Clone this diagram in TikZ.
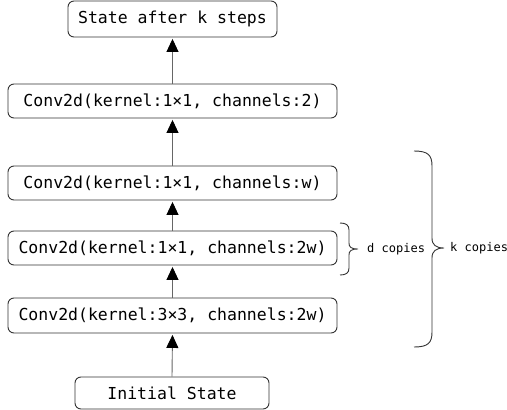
\documentclass[tikz,border=0pt]{standalone}
\usepackage{fontspec}
\setmonofont{DejaVu Sans Mono}
\usetikzlibrary{arrows.meta}
\definecolor{arrowgray}{HTML}{666666}
\definecolor{boxline}{HTML}{333333}
\begin{document}
\begin{tikzpicture}[x=1pt,y=-1pt,
  box/.style={draw=boxline,line width=0.9pt,rounded corners=6pt,fill=white,
    font=\fontsize{16.5}{18}\selectfont\ttfamily,inner sep=0pt,align=center},
  flow/.style={draw=arrowgray,line width=0.9pt,shorten >=1.5pt,
    -{Triangle[width=12pt,length=13pt,fill=black,color=black]}},
  brace/.style={draw=boxline,line width=0.9pt},
  lbl/.style={font=\fontsize{12}{14}\selectfont\ttfamily,anchor=west,inner sep=0pt}]
\useasboundingbox (0,0) rectangle (507,410);
\node[box,minimum width=209pt,minimum height=36pt] (top) at (172.5,19) {State after k steps};
\node[box,minimum width=329pt,minimum height=34pt] (c2) at (172.5,101) {Conv2d(kernel:1×1, channels:2)};
\node[box,minimum width=329pt,minimum height=34pt] (cw) at (172.5,183) {Conv2d(kernel:1×1, channels:w)};
\node[box,minimum width=329pt,minimum height=34pt] (c2w) at (172.5,248) {Conv2d(kernel:1×1, channels:2w)};
\node[box,minimum width=329pt,minimum height=35pt] (c33) at (172.5,315.5) {Conv2d(kernel:3×3, channels:2w)};
\node[box,minimum width=194pt,minimum height=32pt] (init) at (172,393) {Initial State};
\draw[flow] (init.north) -- (c33.south);
\draw[flow] (c33.north) -- (c2w.south);
\draw[flow] (c2w.north) -- (cw.south);
\draw[flow] (cw.north) -- (c2.south);
\draw[flow] (c2.north) -- (top.south);
% small brace
\coordinate (dtip) at (358,249);
\draw[brace] (340,223) .. controls (346,223) and (349,225) .. (349,230) -- (349,243)
  .. controls (349,247) and (351,249) .. (dtip)
  .. controls (351,249) and (349,251) .. (349,255) -- (349,268)
  .. controls (349,273) and (346,275) .. (340,275);
\node[lbl] (dl) at (367,249) {d copies};
% large brace
\coordinate (ktip) at (444,248);
\draw[brace] (414,151) .. controls (428,151) and (432,155) .. (432,166) -- (432,238)
  .. controls (432,245) and (436,248) .. (ktip)
  .. controls (436,248) and (432,251) .. (432,258) -- (432,332)
  .. controls (432,343) and (428,347) .. (414,347);
\node[lbl] (kl) at (450,248) {k copies};
\end{tikzpicture}
\end{document}
